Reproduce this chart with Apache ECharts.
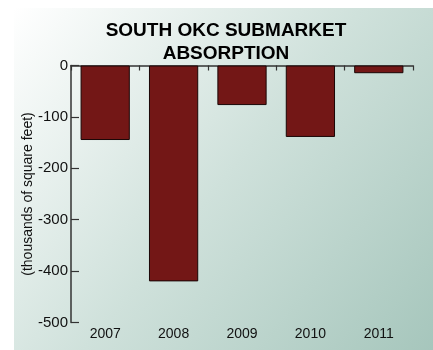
<!DOCTYPE html>
<html><head><meta charset="utf-8">
<script src="https://cdn.jsdelivr.net/npm/echarts@6/dist/echarts.min.js"></script>
<style>html,body{margin:0;padding:0;background:#fff}#c{width:433px;height:350px}</style>
</head><body><div id="c"></div>
<script>
const categories = ['2007','2008','2009','2010','2011'];
const absorption = [-145, -420, -77, -139, -15];
const yTicks = [0, -100, -200, -300, -400, -500];

const chart = echarts.init(document.getElementById('c'), null, {renderer:'canvas'});
const font = 'Liberation Sans, Arial, Helvetica, sans-serif';
chart.setOption({
  animation: false,
  graphic: [{
    type: 'rect', left: 14, top: 8, z: -10, silent: true,
    shape: {width: 419, height: 342},
    style: {fill: new echarts.graphic.LinearGradient(0, 0, 1, 1, [
      {offset: 0, color: '#ffffff'},
      {offset: 0.5, color: '#cfe1db'},
      {offset: 1, color: '#a6c6bc'}
    ])}
  }],
  title: {
    text: 'SOUTH OKC SUBMARKET\nABSORPTION',
    left: 221, top: 14, textAlign: 'center',
    textStyle: {fontFamily: font, fontWeight: 'bold', fontSize: 19, color: '#000', lineHeight: 23}
  },
  grid: {left: 71, right: 20, top: 65.5, bottom: 27.5, containLabel: false},
  xAxis: [{
    type: 'category', data: categories, position: 'top',
    axisLine: {show: true, onZero: false, lineStyle: {color: '#333', width: 1.5}},
    axisTick: {show: true, inside: true, length: 5, lineStyle: {color: '#333', width: 1.2}},
    axisLabel: {show: false}
  }, {
    type: 'category', data: categories, position: 'bottom',
    axisLine: {show: false, onZero: false}, axisTick: {show: false},
    axisLabel: {show: true, fontFamily: font, fontSize: 14, color: '#111', margin: 5}
  }],
  yAxis: {
    type: 'value', min: -500, max: 0, interval: 100,
    name: '(thousands of square feet)', nameLocation: 'middle', nameGap: 36,
    nameMoveOverlap: false,
    nameTextStyle: {fontFamily: font, fontSize: 14, color: '#111'},
    axisLine: {show: true, lineStyle: {color: '#333', width: 1.5}},
    axisTick: {show: true, inside: true, length: 8, lineStyle: {color: '#333', width: 1.2}},
    axisLabel: {fontFamily: font, fontSize: 15, color: '#111', margin: 3,
      formatter: v => yTicks.includes(v) ? String(v) : ''},
    splitLine: {show: false}
  },
  series: [{
    type: 'bar', data: absorption, xAxisIndex: 0, barWidth: '72%',
    itemStyle: {color: '#731716', borderColor: '#1a0606', borderWidth: 1}
  }]
});
</script></body></html>
